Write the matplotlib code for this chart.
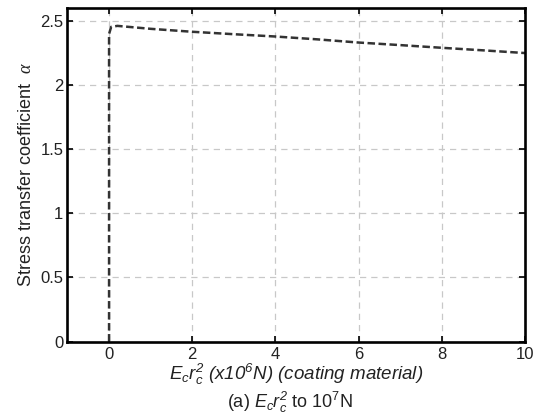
import matplotlib
matplotlib.use("Agg")
import matplotlib.pyplot as plt

plt.rcParams['font.family'] = ['Liberation Sans', 'DejaVu Sans']
plt.rcParams['mathtext.fontset'] = 'custom'
plt.rcParams['mathtext.rm'] = 'Liberation Sans'
plt.rcParams['mathtext.it'] = 'Liberation Serif:italic'
plt.rcParams['mathtext.sf'] = 'Liberation Sans:italic'

# stress transfer coefficient vs coating stiffness E_c r_c^2 (x10^6 N)
stiffness = [0, 0, 0.05, 0.2, 1, 2, 3, 4, 5, 6, 7, 8, 9, 10]
alpha = [0, 2.40, 2.455, 2.463, 2.44, 2.417, 2.398, 2.38, 2.358, 2.333,
         2.313, 2.292, 2.272, 2.251]

xticks = [0, 2, 4, 6, 8, 10]
yticks = [0, 0.5, 1, 1.5, 2, 2.5]
ytick_labels = ['0', '0.5', '1', '1.5', '2', '2.5']

fig = plt.figure(figsize=(5.42, 4.16), dpi=100)
ax = fig.add_axes([0.1245, 0.179, 0.8441, 0.801])

ax.plot(stiffness, alpha, linestyle=(0, (3.0, 1.4)), color='#333333', linewidth=1.8)

ax.set_xlim(-1, 10)
ax.set_ylim(0, 2.6)
ax.set_xticks(xticks)
ax.set_yticks(yticks)
ax.set_yticklabels(ytick_labels)
ax.grid(True, linestyle=(0, (5, 4)), color='#c8c8c8', linewidth=0.9)
ax.tick_params(direction='in', top=True, right=True, length=4, width=1.2,
               labelsize=12, color='black', labelcolor='#222222')
ax.tick_params(axis='y', pad=3)
ax.tick_params(axis='x', pad=4)
for s in ax.spines.values():
    s.set_linewidth(1.9)

ax.set_ylabel(r'Stress transfer coefficient  $\alpha$', fontsize=13,
              color='#222222', labelpad=4)
ax.set_xlabel(r'$\mathsf{E_c r_c^2}$ (x10$^{\mathsf{6}}$N) (coating material)',
              fontsize=13.5, style='italic', color='#222222', labelpad=0)

fig.text(0.535, 0.019, r'(a) $\mathsf{E_c r_c^2}$ to 10$^7$N', ha='center',
         va='baseline', fontsize=13, color='#222222')

fig.savefig('out.png', dpi=100)
